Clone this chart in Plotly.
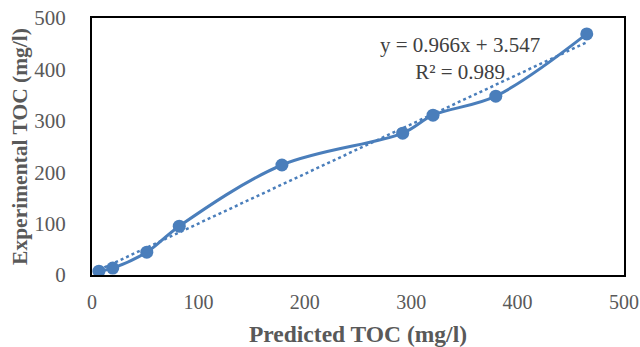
import plotly.graph_objects as go

predicted = [6.5, 19.5, 51.5, 82, 178.5, 292, 320.5, 379.5, 465]
experimental = [7.5, 13.5, 44.5, 95, 214, 276, 311, 348, 469]
slope = 0.966
intercept = 3.547
x_ticks = [0, 100, 200, 300, 400, 500]
y_ticks = [0, 100, 200, 300, 400, 500]

blue = "#4a7ebb"
gray = "#595959"
font_family = "Liberation Serif, Times New Roman, serif"

xmin, xmax = min(predicted), max(predicted)
trend_x = [xmin, xmax]
trend_y = [slope * v + intercept for v in trend_x]

fig = go.Figure()
fig.add_trace(go.Scatter(
    x=trend_x, y=trend_y, mode="lines",
    line=dict(color=blue, width=2.5, dash="dot"), hoverinfo="skip"))
fig.add_trace(go.Scatter(
    x=predicted, y=experimental, mode="lines+markers",
    line=dict(color=blue, width=3, shape="spline", smoothing=1.0),
    marker=dict(color=blue, size=13)))

fig.add_annotation(x=0.692, y=0.842, xref="paper", yref="paper",
                   xanchor="center", yanchor="middle",
                   text="y = 0.966x + 3.547<br>R² = 0.989", showarrow=False,
                   font=dict(family=font_family, size=21, color="#404040"),
                   align="center")

axis_common = dict(
    showgrid=False, zeroline=False, showline=True, mirror=True,
    linecolor="black", linewidth=2, ticks="", automargin=False,
    ticklabeloverflow="allow",
)
fig.update_xaxes(range=[0, 500], tickvals=x_ticks, ticklabelstandoff=8, **axis_common,
                 tickfont=dict(family=font_family, size=20, color=gray),
                 title=dict(text="<b>Predicted TOC (mg/l)</b>", standoff=19,
                            font=dict(family=font_family, size=23.5, color=gray)))
fig.update_yaxes(range=[0, 500], tickvals=y_ticks, ticklabelstandoff=20, **axis_common,
                 tickfont=dict(family=font_family, size=21, color=gray),
                 title=dict(text="<b>Experimental TOC (mg/l)</b>", standoff=1,
                            font=dict(family=font_family, size=21.5, color=gray)))

fig.update_layout(
    width=640, height=347, showlegend=False,
    margin=dict(l=92, r=16, t=18, b=72),
    plot_bgcolor="white", paper_bgcolor="white",
)
fig.write_html(
    "out.html",
    config={"displayModeBar": False},
    post_script="document.body.style.margin='0';document.body.style.overflow='hidden';",
)
